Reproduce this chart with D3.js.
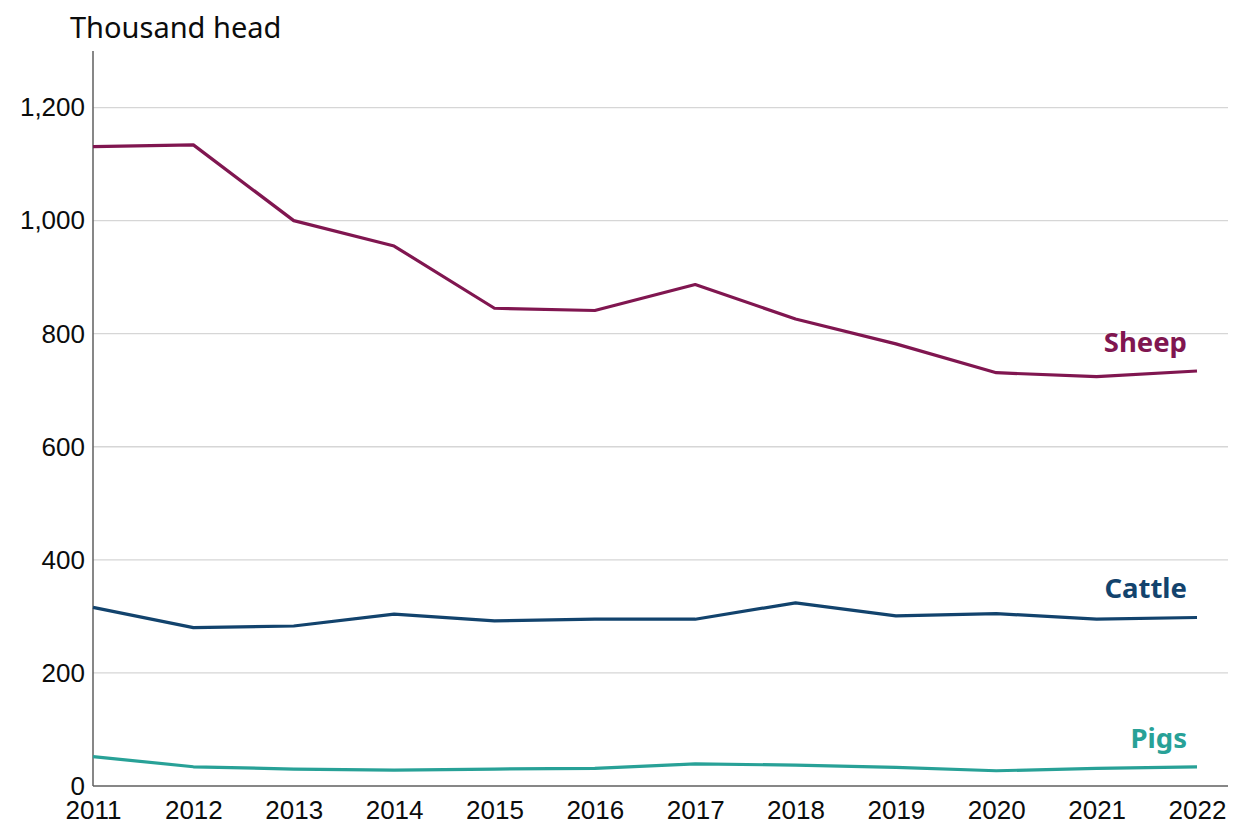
<!DOCTYPE html>
<html>
<head>
<meta charset="utf-8">
<script src="https://cdn.jsdelivr.net/npm/d3@7"></script>
<style>
  body { margin: 0; background: #fff; }
  svg { display: block; font-family: "Noto Sans", Lato, sans-serif; }
</style>
</head>
<body>
<svg id="chart" width="1243" height="825"></svg>
<script>
const years = [2011, 2012, 2013, 2014, 2015, 2016, 2017, 2018, 2019, 2020, 2021, 2022];
const sheep = [1131, 1134, 1000, 955, 845, 841, 887, 826, 782, 731, 724, 734];
const cattle = [316, 280, 283, 304, 292, 295, 295, 324, 301, 305, 295, 298];
const pigs = [52, 34, 30, 28, 30, 31, 39, 37, 33, 27, 31, 34];
const yTicks = [0, 200, 400, 600, 800, 1000, 1200];
const seriesNames = ["Sheep", "Cattle", "Pigs"];
const seriesColors = ["#801650", "#12436D", "#28A197"];
const yTitle = "Thousand head";

const series = [sheep, cattle, pigs];

const svg = d3.select("#chart");
const x = d3.scaleLinear().domain([2011, 2022]).range([93, 1197]);
const y = d3.scaleLinear().domain([0, 1300]).range([786, 51]);
const xRight = 1228;

// gridlines
svg.append("g").selectAll("line")
  .data(yTicks.filter(d => d > 0))
  .join("line")
  .attr("x1", x(2011)).attr("x2", xRight)
  .attr("y1", d => y(d)).attr("y2", d => y(d))
  .attr("stroke", "#d6d6d6").attr("stroke-width", 1.3);

// y axis
const yAxis = svg.append("g")
  .attr("transform", `translate(${x(2011)},0)`)
  .call(d3.axisLeft(y).tickValues(yTicks).tickSize(0).tickPadding(8).tickFormat(d3.format(",")));
yAxis.select(".domain").attr("stroke", "#5f5f5f").attr("stroke-width", 1.5).attr("d", `M0,${y(1300)}V${y(0)}`);
yAxis.selectAll("text").attr("font-size", 26).attr("fill", "#0b0c0c").attr("font-family", "inherit");

// x axis
const xAxis = svg.append("g")
  .attr("transform", `translate(0,${y(0)})`)
  .call(d3.axisBottom(x).tickValues(years).tickSize(0).tickPadding(15).tickFormat(d3.format("d")));
xAxis.select(".domain").attr("stroke", "#5f5f5f").attr("stroke-width", 1.5).attr("d", `M${x(2011)},0H${xRight}`);
xAxis.selectAll("text").attr("font-size", 26).attr("fill", "#0b0c0c").attr("font-family", "inherit");

// lines
const line = d3.line().x((d, i) => x(years[i])).y(d => y(d));
series.forEach((s, k) => {
  svg.append("path")
    .datum(s)
    .attr("d", line)
    .attr("fill", "none")
    .attr("stroke", seriesColors[k])
    .attr("stroke-width", 3.2)
    .attr("stroke-linejoin", "round");
});

// labels
const labelY = [352, 598, 748];
seriesNames.forEach((n, k) => {
  svg.append("text")
    .attr("x", x(2022) - 10)
    .attr("y", labelY[k])
    .attr("text-anchor", "end")
    .attr("font-size", 27.5)
    .attr("font-weight", 700)
    .attr("fill", seriesColors[k])
    .text(n);
});

// y title
svg.append("text")
  .attr("x", 70).attr("y", 38)
  .attr("font-size", 29)
  .attr("fill", "#0b0c0c")
  .text(yTitle);
</script>
</body>
</html>
